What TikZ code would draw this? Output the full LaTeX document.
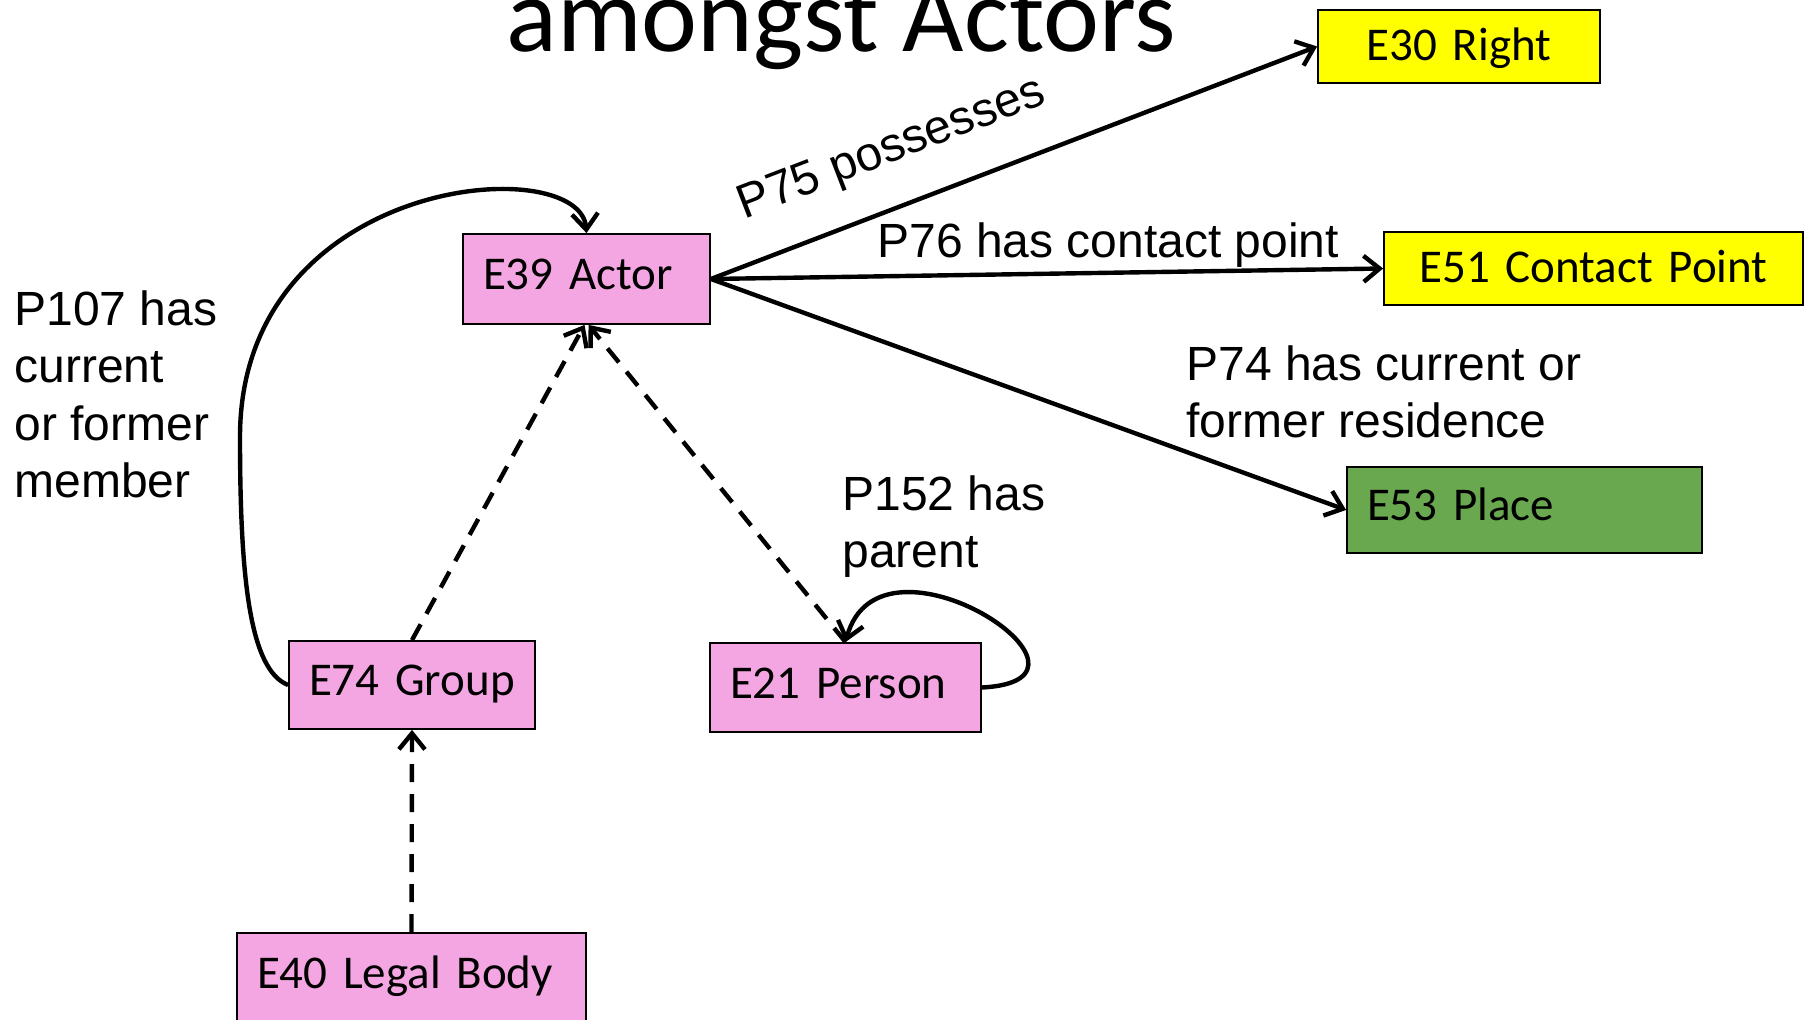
\documentclass[tikz,border=0pt]{standalone}
\usepackage{fontspec}
\setmainfont{Carlito}
\newfontfamily\lblfont{Liberation Sans}
\usepackage{xcolor}
\usetikzlibrary{arrows.meta}

\definecolor{actpink}{RGB}{244,166,226}
\definecolor{ryellow}{RGB}{255,255,0}
\definecolor{pgreen}{RGB}{106,168,79}

\begin{document}
\begin{tikzpicture}[x=0.5pt,y=0.5pt,
	ent/.style={draw=black, line width=0.9pt, inner xsep=10pt, inner ysep=0pt, font=\fontsize{23.5}{28}\selectfont, text height=17pt, text depth=6pt, align=left},
	lbl/.style={inner sep=0pt, font=\lblfont\fontsize{24}{28.75}\selectfont, align=left},
	rel/.style={line width=2.2pt, -{Straight Barb[length=8pt,width=13pt]}},
	isa/.style={rel, dash pattern=on 9pt off 6pt}]
	\useasboundingbox (0,0) rectangle (1804,-1020);

	% title, cut at the top
	\node[anchor=base west, inner sep=0pt, font=\fontsize{53}{60}\selectfont] (title) at (506,-52) {amongst Actors};

	% classes
	\node[ent, fill=actpink, text width=103.5pt, minimum height=45pt] (actor) at (586.5,-279) {E39 Actor};
	\node[ent, fill=ryellow, text width=121pt, minimum height=36.5pt, text height=20.5pt, align=center] (right) at (1459,-46.5) {E30 Right};
	\node[ent, fill=ryellow, text width=189.5pt, minimum height=36.5pt, text height=20.5pt, align=center] (contact) at (1593.5,-268.5) {E51 Contact Point};
	\node[ent, fill=pgreen, text width=157.5pt, minimum height=43pt] (place) at (1524.5,-510) {E53 Place};
	\node[ent, fill=actpink, text width=103pt, minimum height=44pt] (group) at (412,-685) {E74 Group};
	\node[ent, fill=actpink, text width=115.5pt, minimum height=44.5pt] (person) at (845.5,-687.5) {E21 Person};
	\node[ent, fill=actpink, text width=154.5pt, minimum height=44pt] (legal) at (411.5,-977) {E40 Legal Body};

	% properties of the actor
	\draw[rel] (actor.east) -- (right.west);
	\draw[rel] (actor.east) -- (contact.west);
	\draw[rel] (actor.east) -- (place.west);

	% subclasses
	\draw[isa] (group.north) -- ([xshift=-1pt]actor.south);
	\draw[isa] (person.north) -- ([xshift=1pt]actor.south);
	\draw[isa] (legal.north) -- (group.south);

	% loops
	\coordinate (memb) at (240,-437);
	\draw[rel] (group.west) .. controls (250,-670) and (240,-580) .. (memb) .. controls (240,-175) and (580,-150) .. (actor.north);
	\draw[rel] (person.east) .. controls (1130,-680) and (880,-515) .. (person.north);

	% labels
	\node[lbl, rotate=21] (p75) at (892,-150) {P75 possesses};
	\node[lbl, anchor=base west] (p76) at (877,-258) {P76 has contact point};
	\node[lbl, anchor=north west] (p74) at (1186,-345) {P74 has current or\\former residence};
	\node[lbl, anchor=north west] (p152) at (842,-475) {P152 has\\parent};
	\node[lbl, anchor=north west] (p107) at (14,-290) {P107 has\\current\\or former\\member};
\end{tikzpicture}
\end{document}
